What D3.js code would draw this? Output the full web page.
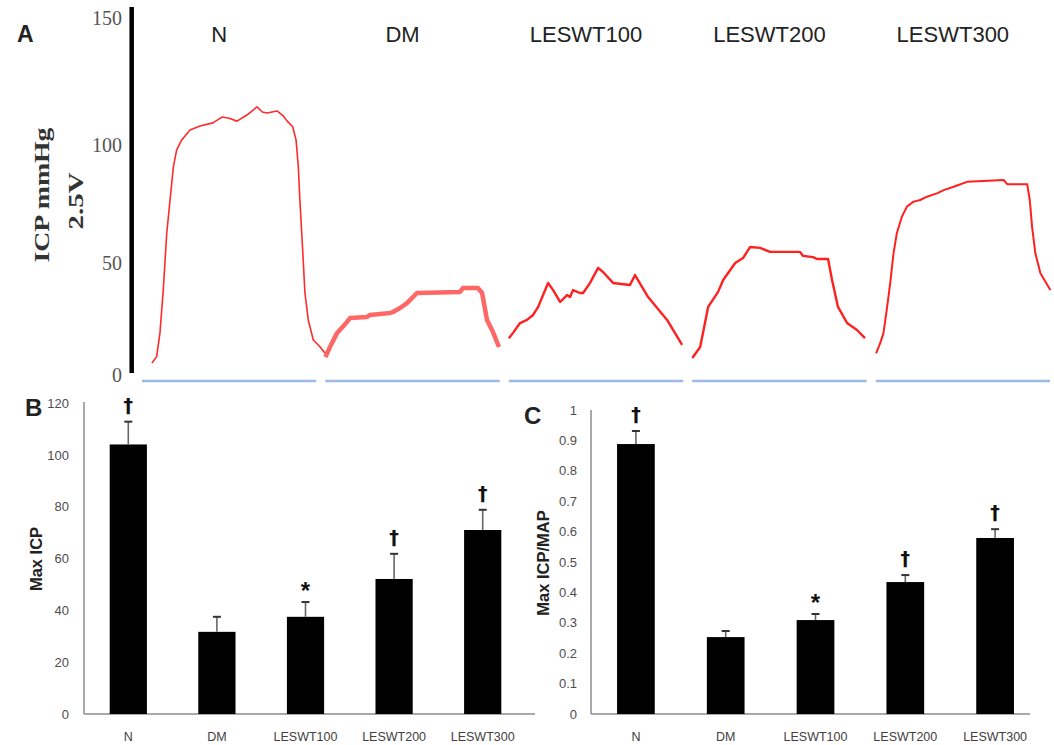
<!DOCTYPE html>
<html><head><meta charset="utf-8">
<script src="https://cdn.jsdelivr.net/npm/d3@7"></script>
<style>body{margin:0;background:#fff}</style>
</head><body>
<svg id="c" width="1054" height="745"></svg>
<script>
// ---------- DATA ----------
const groups = ["N", "DM", "LESWT100", "LESWT200", "LESWT300"];
const traceTicks = [0, 50, 100, 150];
// ICP traces: [time (% of recording window), ICP mmHg]
const traceN = [[5.7,5.4],[8.4,8.2],[10.3,18.8],[12.2,37.9],[14.2,62.7],[16.1,76.7],[18.0,90.7],[19.9,97.9],[22.8,102.0],[27.5,105.9],[33.3,107.5],[40.7,108.7],[45.9,111.0],[50,110.5],[54.5,109.4],[60.2,111.8],[66,115.0],[69,113.0],[71.7,112.6],[77.5,113.4],[81,111.5],[83.2,109.5],[86.5,107.2],[88.4,102.0],[89.7,90.8],[90.6,76.7],[92.2,55.5],[93.5,36.6],[95.4,24.6],[98.3,15.6],[102.1,12.6],[105,9.8]];
const traceDM = [[0,8.0],[2.6,12.5],[6.7,18.8],[12.4,23.7],[14.1,25.4],[23.9,25.9],[25.6,26.8],[37.1,27.7],[38.8,28.1],[42.8,29.9],[46.8,32.1],[52.5,36.6],[77.2,37.1],[78.9,38.8],[87.6,38.8],[89.9,36.6],[92.7,24.6],[95.6,20.1],[99.6,12.5]];
const traceL100 = [[0,16.4],[2.4,18.8],[6.4,23.2],[10.4,24.6],[13.9,26.8],[16.8,30.4],[22.5,41.1],[25.4,37.9],[29.4,32.6],[33.4,35.7],[35.1,34.8],[36.8,37.9],[40.8,36.6],[42.6,36.6],[46.6,41.1],[51.2,47.8],[54.0,46.0],[59.8,41.1],[69.5,40.2],[72.4,44.6],[79.9,34.8],[90.8,24.6],[99.4,13.4]];
const traceL200 = [[0,7.6],[4.5,12.5],[9.1,30.4],[14.8,37.1],[17.7,42.4],[24.6,50.0],[29.1,52.1],[33.2,56.8],[38.9,56.4],[44.6,54.7],[61.8,54.7],[63.6,53.0],[69.3,52.5],[71.6,51.7],[77.9,51.7],[80.2,42.4],[83.6,30.4],[88.8,23.2],[94.5,20.1],[99.1,16.5]];
const traceL300 = [[0.2,9.7],[2.5,14.1],[4.4,18.6],[6.3,29.0],[8.3,40.9],[10.2,54.1],[12.1,62.6],[15.0,69.6],[17.9,73.9],[21.7,76.0],[25.5,76.7],[29.4,78.1],[35.1,79.5],[39.0,80.9],[44.7,82.3],[52.4,84.4],[73.4,85.2],[75.4,83.4],[86.9,83.4],[88.4,76.7],[89.7,65.4],[91.6,54.1],[94.5,45.4],[100.2,37.9]];
const traces = [traceN, traceDM, traceL100, traceL200, traceL300];

const maxICP = [104.0, 31.7, 37.5, 52.1, 71.0];
const maxICPErr = [8.8, 5.8, 5.7, 9.7, 7.8];
const ratio = [0.888, 0.253, 0.309, 0.434, 0.579];
const ratioErr = [0.043, 0.020, 0.020, 0.023, 0.029];
const sigMarks = ["†", "", "*", "†", "†"];
const ticksB = [0, 20, 40, 60, 80, 100, 120];
const ticksC = [0, 0.1, 0.2, 0.3, 0.4, 0.5, 0.6, 0.7, 0.8, 0.9, 1];

// ---------- DRAW ----------
const svg = d3.select("#c");
svg.append("rect").attr("width", 1054).attr("height", 745).attr("fill", "#fff");

const SANS = "'Liberation Sans', Arial, sans-serif";
const SERIF = "'Liberation Serif', 'Times New Roman', serif";

// ----- Panel A -----
const yA = d3.scaleLinear().domain(traceTicks).range([375, 263, 145, 18]);
const xA = d3.scaleBand().domain(groups).range([142, 1050]).paddingInner(0.05).paddingOuter(0);
const bwA = xA.bandwidth();
const traceStyle = {
  N: {w: 1.6, c: "#ff2a2a", o: 1},
  DM: {w: 4.5, c: "#ff3b3b", o: 0.78},
  LESWT100: {w: 2.4, c: "#ff2020", o: 1},
  LESWT200: {w: 2.4, c: "#ff2020", o: 1},
  LESWT300: {w: 2.0, c: "#ff2020", o: 1}
};

const gA = svg.append("g");
gA.selectAll("line.base").data(groups).join("line")
  .attr("x1", d => xA(d)).attr("x2", d => xA(d) + bwA)
  .attr("y1", 381).attr("y2", 381)
  .attr("stroke", "#9dbbe0").attr("stroke-width", 2.6);

groups.forEach((g, i) => {
  const tx = d3.scaleLinear().domain([0, 100]).range([xA(g), xA(g) + bwA]);
  const line = d3.line().x(d => tx(d[0])).y(d => yA(d[1]));
  const st = traceStyle[g];
  gA.append("path").attr("d", line(traces[i]))
    .attr("fill", "none").attr("stroke", st.c).attr("stroke-width", st.w)
    .attr("stroke-opacity", st.o).attr("stroke-linejoin", "round");
  gA.append("text").attr("x", xA(g) + bwA / 2 - 10).attr("y", 42)
    .attr("text-anchor", "middle").attr("font-family", SANS).attr("font-size", 22)
    .attr("fill", "#222").text(g);
});

const axA = gA.append("g").attr("transform", "translate(131,0)")
  .call(d3.axisLeft(yA).tickValues(traceTicks).tickSize(0).tickPadding(9));
axA.select(".domain").remove();
axA.selectAll("text").attr("font-family", SERIF).attr("font-size", 20).attr("fill", "#555");
gA.append("line").attr("x1", 131.7).attr("x2", 131.7).attr("y1", 7).attr("y2", 373)
  .attr("stroke", "#000").attr("stroke-width", 4.5);

gA.append("text").attr("transform", "translate(49,195) rotate(-90)")
  .attr("text-anchor", "middle").attr("font-family", SERIF).attr("font-size", 21).attr("font-weight", "bold")
  .attr("fill", "#333").attr("textLength", 135).attr("lengthAdjust", "spacingAndGlyphs").text("ICP mmHg");
gA.append("text").attr("transform", "translate(83,201) rotate(-90)")
  .attr("text-anchor", "middle").attr("font-family", SERIF).attr("font-size", 21).attr("font-weight", "bold")
  .attr("fill", "#333").attr("textLength", 57).attr("lengthAdjust", "spacingAndGlyphs").text("2.5V");
gA.append("text").attr("x", 17).attr("y", 42).attr("font-family", SANS).attr("font-weight", "bold")
  .attr("font-size", 23).attr("fill", "#222").text("A");

// ----- Bar panels -----
function barPanel(opts) {
  const {vals, errs, ticks, yRange, xRange, axisX, xEnd, yTop, label, lx, ly, title, tx, ty, fmt, tpad} = opts;
  const g = svg.append("g");
  const y = d3.scaleLinear().domain([0, ticks[ticks.length - 1]]).range(yRange);
  const x = d3.scaleBand().domain(groups).range(xRange).paddingInner(0.58).paddingOuter(0.29);
  const base = y(0);
  g.append("line").attr("x1", axisX).attr("x2", xEnd).attr("y1", base).attr("y2", base)
    .attr("stroke", "#8c8c8c").attr("stroke-width", 1.5);
  g.append("line").attr("x1", axisX).attr("x2", axisX).attr("y1", yTop).attr("y2", base)
    .attr("stroke", "#8c8c8c").attr("stroke-width", 1.5);
  const ay = g.append("g").attr("transform", `translate(${axisX},0)`)
    .call(d3.axisLeft(y).tickValues(ticks).tickSize(0).tickPadding(tpad).tickFormat(fmt));
  ay.select(".domain").remove();
  ay.selectAll("text").attr("font-family", SANS).attr("font-size", 13).attr("fill", "#4d4d4d");
  const ax = g.append("g").attr("transform", `translate(0,${base})`)
    .call(d3.axisBottom(x).tickSize(0).tickPadding(18));
  ax.select(".domain").remove();
  ax.selectAll("text").attr("font-family", SANS).attr("font-size", 12.5).attr("fill", "#404040");
  g.selectAll("rect.bar").data(groups).join("rect")
    .attr("x", d => x(d)).attr("width", x.bandwidth())
    .attr("y", (d, i) => y(vals[i])).attr("height", (d, i) => base - y(vals[i]))
    .attr("fill", "#000");
  groups.forEach((d, i) => {
    const cx = x(d) + x.bandwidth() / 2;
    const top = y(vals[i] + errs[i]);
    g.append("line").attr("x1", cx).attr("x2", cx).attr("y1", y(vals[i])).attr("y2", top)
      .attr("stroke", "#666").attr("stroke-width", 1.6);
    g.append("line").attr("x1", cx - 4).attr("x2", cx + 4).attr("y1", top).attr("y2", top)
      .attr("stroke", "#333").attr("stroke-width", 2);
    const m = sigMarks[i];
    if (m === "†") {
      g.append("text").attr("x", cx).attr("y", top - 16 + 6).attr("text-anchor", "middle")
        .attr("font-family", "'DejaVu Sans', sans-serif").attr("font-weight", "bold").attr("font-size", 19).attr("fill", "#111").text(m);
    } else if (m === "*") {
      g.append("text").attr("x", cx).attr("y", top - 16 + 13).attr("text-anchor", "middle")
        .attr("font-family", SANS).attr("font-weight", "bold").attr("font-size", 24).attr("fill", "#111").text(m);
    }
  });
  g.append("text").attr("transform", `translate(${lx},${ly}) rotate(-90)`).attr("text-anchor", "middle")
    .attr("font-family", SANS).attr("font-weight", "bold").attr("font-size", 16.5).attr("fill", "#222").text(label);
  g.append("text").attr("x", tx).attr("y", ty).attr("font-family", SANS).attr("font-weight", "bold")
    .attr("font-size", 24).attr("fill", "#222").text(title);
}

barPanel({vals: maxICP, errs: maxICPErr, ticks: ticksB, yRange: [714, 403], xRange: [84, 527],
  axisX: 84, xEnd: 535, yTop: 402, label: "Max ICP", lx: 42, ly: 559, title: "B", tx: 25, ty: 416,
  fmt: d => d, tpad: 15});
barPanel({vals: ratio, errs: ratioErr, ticks: ticksC, yRange: [714, 410], xRange: [591, 1040],
  axisX: 591, xEnd: 1030, yTop: 410, label: "Max ICP/MAP", lx: 549, ly: 563, title: "C", tx: 524, ty: 424,
  fmt: d => String(+d.toFixed(1)), tpad: 14});
</script>
</body></html>
